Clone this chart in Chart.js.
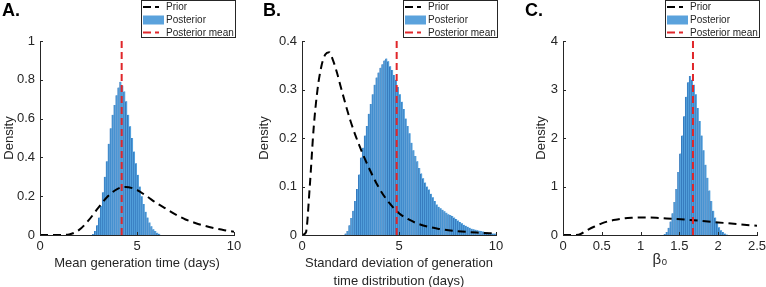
<!DOCTYPE html>
<html>
<head>
<meta charset="utf-8">
<script src="https://cdn.jsdelivr.net/npm/chart.js@4.4.0/dist/chart.umd.min.js"></script>
<style>
  html, body { margin: 0; padding: 0; background: #fff; overflow: hidden; }
  canvas { position: absolute; top: 0; }
</style>
</head>
<body>
<canvas id="chartA" width="255" height="290" style="left:0"></canvas>
<canvas id="chartB" width="255" height="290" style="left:255px"></canvas>
<canvas id="chartC" width="266" height="290" style="left:510px"></canvas>
<script>
// ------- data -------------------------------

// A. mean generation time
const histA_x = [2.75, 2.85, 2.95, 3.05, 3.15, 3.25, 3.35, 3.45, 3.55, 3.65, 3.75, 3.85, 3.95, 4.05, 4.15, 4.25, 4.35, 4.45,
    4.55, 4.65, 4.75, 4.85, 4.95, 5.05, 5.15, 5.25, 5.35, 5.45, 5.55, 5.65, 5.75, 5.85, 5.95, 6.05, 6.15];
const histA_y = [0.005, 0.02, 0.05, 0.09, 0.15, 0.22, 0.30, 0.38, 0.47, 0.55, 0.62, 0.67, 0.72, 0.76, 0.79, 0.77, 0.74, 0.69,
    0.62, 0.56, 0.50, 0.43, 0.37, 0.31, 0.25, 0.20, 0.16, 0.12, 0.09, 0.065, 0.045, 0.03, 0.02, 0.012, 0.006];
const priorA_x = [0, 0.5, 1, 1.5, 2, 2.5, 3, 3.5, 4, 4.4, 5, 5.5, 6, 6.5, 7, 7.5, 8, 8.5, 9, 9.5, 10];
const priorA_y = [0, 0, 0, 0.003, 0.025, 0.075, 0.14, 0.2, 0.238, 0.248, 0.232, 0.2, 0.165, 0.135, 0.105, 0.08, 0.062, 0.047, 0.035, 0.025, 0.017];
const meanA = 4.21;
const xTicksA = [0, 5, 10];
const yTicksA = [0, 0.2, 0.4, 0.6, 0.8, 1];

// B. sd of generation time distribution
const histB_x = [2.25, 2.35, 2.45, 2.55, 2.65, 2.75, 2.85, 2.95, 3.05, 3.15, 3.25, 3.35, 3.45, 3.55, 3.65, 3.75, 3.85, 3.95,
    4.05, 4.15, 4.25, 4.35, 4.45, 4.55, 4.65, 4.75, 4.85, 4.95, 5.05, 5.15, 5.25, 5.35, 5.45, 5.55, 5.65, 5.75, 5.85, 5.95,
    6.05, 6.15, 6.25, 6.35, 6.45, 6.55, 6.65, 6.75, 6.85, 6.95, 7.05, 7.15, 7.25, 7.35, 7.45, 7.55, 7.65, 7.75, 7.85, 7.95,
    8.05, 8.15, 8.25, 8.35, 8.45, 8.55, 8.65, 8.75, 8.85, 8.95, 9.05, 9.15, 9.25, 9.35, 9.45, 9.55, 9.65, 9.75, 9.85, 9.95];
const histB_y = [0.003, 0.008, 0.02, 0.035, 0.05, 0.07, 0.095, 0.125, 0.16, 0.18, 0.205, 0.225, 0.25, 0.27, 0.29, 0.31, 0.325, 0.335,
    0.345, 0.352, 0.36, 0.364, 0.358, 0.348, 0.34, 0.33, 0.32, 0.305, 0.29, 0.275, 0.26, 0.24, 0.225, 0.21, 0.19, 0.175, 0.163, 0.152,
    0.138, 0.127, 0.117, 0.108, 0.1, 0.094, 0.085, 0.078, 0.07, 0.063, 0.058, 0.055, 0.052, 0.049, 0.046, 0.043, 0.041, 0.039, 0.036, 0.033,
    0.03, 0.027, 0.024, 0.021, 0.019, 0.017, 0.015, 0.013, 0.012, 0.011, 0.01, 0.009, 0.008, 0.007, 0.006, 0.005, 0.004, 0.004, 0.003, 0.003];
const priorB_x = [0, 0.2, 0.4, 0.6, 0.8, 1, 1.2, 1.4, 1.6, 1.8, 2, 2.5, 3, 3.5, 4, 4.5, 5, 5.5, 6, 7, 8, 9, 10];
const priorB_y = [0, 0.005, 0.1, 0.22, 0.3, 0.348, 0.372, 0.377, 0.36, 0.335, 0.305, 0.235, 0.18, 0.134, 0.095, 0.066, 0.045, 0.032, 0.023, 0.013, 0.008, 0.005, 0.003];
const meanB = 4.88;
const xTicksB = [0, 5, 10];
const yTicksB = [0, 0.1, 0.2, 0.3, 0.4];

// C. beta_0
const histC_x = [1.3125, 1.3375, 1.3625, 1.3875, 1.4125, 1.4375, 1.4625, 1.4875, 1.5125, 1.5375, 1.5625, 1.5875, 1.6125,
    1.6375, 1.6625, 1.6875, 1.7125, 1.7375, 1.7625, 1.7875, 1.8125, 1.8375, 1.8625, 1.8875, 1.9125, 1.9375, 1.9625, 1.9875,
    2.0125, 2.0375, 2.0625, 2.0875, 2.1125];
const histC_y = [0.02, 0.06, 0.15, 0.28, 0.45, 0.68, 0.95, 1.3, 1.68, 2.05, 2.45, 2.85, 3.15,
    3.28, 3.2, 3.1, 2.9, 2.62, 2.35, 2.05, 1.75, 1.45, 1.18, 0.92, 0.7, 0.5, 0.36, 0.25,
    0.16, 0.1, 0.06, 0.03, 0.01];
const priorC_x = [0, 0.1, 0.2, 0.3, 0.4, 0.5, 0.6, 0.7, 0.8, 0.9, 1, 1.2, 1.4, 1.6, 1.8, 2, 2.2, 2.5];
const priorC_y = [0, 0, 0.005, 0.09, 0.17, 0.24, 0.29, 0.32, 0.345, 0.355, 0.36, 0.355, 0.335, 0.315, 0.29, 0.26, 0.23, 0.19];
const meanC = 1.675;
const xTicksC = [0, 0.5, 1, 1.5, 2, 2.5];
const yTicksC = [0, 1, 2, 3, 4];

// ------- styling -----------
const FONT = "'Liberation Sans', Arial, Helvetica, sans-serif";
const INK = '#262626';
const HIST_COLOR = '#52a0dc';
const HIST_EDGE = '#3579bd';
const LEGEND_PATCH = '#5aa2dc';

const zip = (xs, ys) => xs.map((x, i) => ({ x: x, y: ys[i] }));

// MATLAB style ticks pointing into the axes
const inwardTicks = {
    id: 'inwardTicks',
    afterDatasetsDraw(chart) {
        const ctx = chart.ctx;
        const { left, bottom } = chart.chartArea;
        ctx.save();
        ctx.strokeStyle = INK;
        ctx.lineWidth = 1;
        ctx.beginPath();
        chart.scales.x.ticks.forEach(t => {
            const px = Math.round(chart.scales.x.getPixelForValue(t.value)) + 0.5;
            ctx.moveTo(px, bottom);
            ctx.lineTo(px, bottom - 3);
        });
        chart.scales.y.ticks.forEach(t => {
            const py = Math.round(chart.scales.y.getPixelForValue(t.value)) + 0.5;
            ctx.moveTo(left, py);
            ctx.lineTo(left + 3, py);
        });
        ctx.stroke();
        ctx.restore();
    }
};

// boxed legend + panel letter
const boxLegend = {
    id: 'boxLegend',
    afterDraw(chart, args, opts) {
        const ctx = chart.ctx;
        const x = opts.x, y = opts.y, w = opts.w, h = opts.h;
        ctx.save();
        ctx.fillStyle = '#fff';
        ctx.fillRect(x, y, w, h);
        ctx.strokeStyle = INK;
        ctx.lineWidth = 1;
        ctx.strokeRect(x + 0.5, y + 0.5, w - 1, h - 1);

        ctx.font = '10px ' + FONT;
        ctx.textBaseline = 'middle';
        const rows = [7, 20, 32.5];
        chart.data.datasets.forEach((ds, i) => {
            const ry = y + rows[i];
            if (ds.type === 'bar') {
                ctx.fillStyle = LEGEND_PATCH;
                ctx.fillRect(x + 2, ry - 4.5, 21, 9);
            } else {
                ctx.strokeStyle = ds.borderColor;
                ctx.lineWidth = 2;
                ctx.setLineDash([8, 4]);
                ctx.beginPath();
                ctx.moveTo(x + 2, ry);
                ctx.lineTo(x + 18, ry);
                ctx.stroke();
                ctx.setLineDash([]);
            }
            ctx.fillStyle = INK;
            ctx.fillText(ds.label, x + 25, ry + 0.5);
        });

        ctx.font = 'bold 18px ' + FONT;
        ctx.fillStyle = '#000';
        ctx.fillText(opts.panel, opts.px, 11);
        ctx.restore();
    }
};

function makePanel(id, cfg) {
    const yMax = cfg.yTicks[cfg.yTicks.length - 1];
    return new Chart(document.getElementById(id), {
        type: 'bar',
        data: {
            datasets: [{
                type: 'line',
                label: 'Prior',
                data: zip(cfg.priorX, cfg.priorY),
                borderColor: '#000',
                borderWidth: 2,
                borderDash: [8, 5],
                pointRadius: 0,
                fill: false,
                cubicInterpolationMode: 'monotone',
                order: 2
            }, {
                type: 'bar',
                label: 'Posterior',
                data: zip(cfg.histX, cfg.histY),
                backgroundColor: HIST_COLOR,
                borderColor: HIST_EDGE,
                borderWidth: { left: 1, right: 0, top: 0, bottom: 0 },
                borderSkipped: false,
                barPercentage: 1,
                categoryPercentage: 1,
                order: 3
            }, {
                type: 'line',
                label: 'Posterior mean',
                data: [{ x: cfg.mean, y: 0 }, { x: cfg.mean, y: yMax }],
                borderColor: '#e0262a',
                borderWidth: 2,
                borderDash: [7, 4],
                pointRadius: 0,
                fill: false,
                order: 1
            }]
        },
        options: {
            responsive: false,
            animation: false,
            layout: { padding: { left: 0, right: cfg.padRight, top: 41, bottom: 0 } },
            plugins: {
                legend: { display: false },
                tooltip: { enabled: false },
                boxLegend: { x: cfg.legendX, y: 0, w: 95, h: 38, panel: cfg.panel, px: cfg.panelX }
            },
            scales: {
                x: {
                    type: 'linear',
                    offset: false,
                    min: cfg.xTicks[0],
                    max: cfg.xTicks[cfg.xTicks.length - 1],
                    afterBuildTicks: s => { s.ticks = cfg.xTicks.map(v => ({ value: v })); },
                    afterFit: s => { s.height = 55; },
                    grid: { display: false, drawTicks: false, offset: false },
                    border: { display: true, color: INK, width: 1 },
                    ticks: { color: INK, padding: 4, maxRotation: 0, font: { family: FONT, size: 13 }, callback: v => String(v) },
                    title: {
                        display: true,
                        text: cfg.xTitle,
                        color: INK,
                        font: { family: FONT, size: cfg.xTitleSize || 13, lineHeight: '18px' },
                        padding: { top: 0, bottom: cfg.xTitlePad }
                    }
                },
                y: {
                    min: 0,
                    max: yMax,
                    afterBuildTicks: s => { s.ticks = cfg.yTicks.map(v => ({ value: v })); },
                    afterFit: s => { s.width = cfg.yWidth; },
                    grid: { display: false, drawTicks: false },
                    border: { display: true, color: INK, width: 1 },
                    ticks: { color: INK, padding: 5, font: { family: FONT, size: 13 }, callback: v => String(v) },
                    title: {
                        display: true,
                        text: 'Density',
                        color: INK,
                        font: { family: FONT, size: 13, lineHeight: '18px' },
                        padding: { top: cfg.yTitlePad, bottom: 0 }
                    }
                }
            }
        },
        plugins: [inwardTicks, boxLegend]
    });
}

makePanel('chartA', {
    histX: histA_x, histY: histA_y, priorX: priorA_x, priorY: priorA_y, mean: meanA,
    xTicks: xTicksA, yTicks: yTicksA,
    xTitle: 'Mean generation time (days)', xTitlePad: 18,
    yWidth: 40, yTitlePad: 0, padRight: 21,
    legendX: 141, panel: 'A.', panelX: 2
});

makePanel('chartB', {
    histX: histB_x, histY: histB_y, priorX: priorB_x, priorY: priorB_y, mean: meanB,
    xTicks: xTicksB, yTicks: yTicksB,
    xTitle: ['Standard deviation of generation', 'time distribution (days)'], xTitlePad: 0,
    yWidth: 47, yTitlePad: 0, padRight: 14,
    legendX: 148, panel: 'B.', panelX: 8
});

makePanel('chartC', {
    histX: histC_x, histY: histC_y, priorX: priorC_x, priorY: priorC_y, mean: meanC,
    xTicks: xTicksC, yTicks: yTicksC,
    xTitle: 'β₀', xTitleSize: 15, xTitlePad: 21,
    yWidth: 53, yTitlePad: 22.7, padRight: 19,
    legendX: 155, panel: 'C.', panelX: 15
});
</script>
</body>
</html>
